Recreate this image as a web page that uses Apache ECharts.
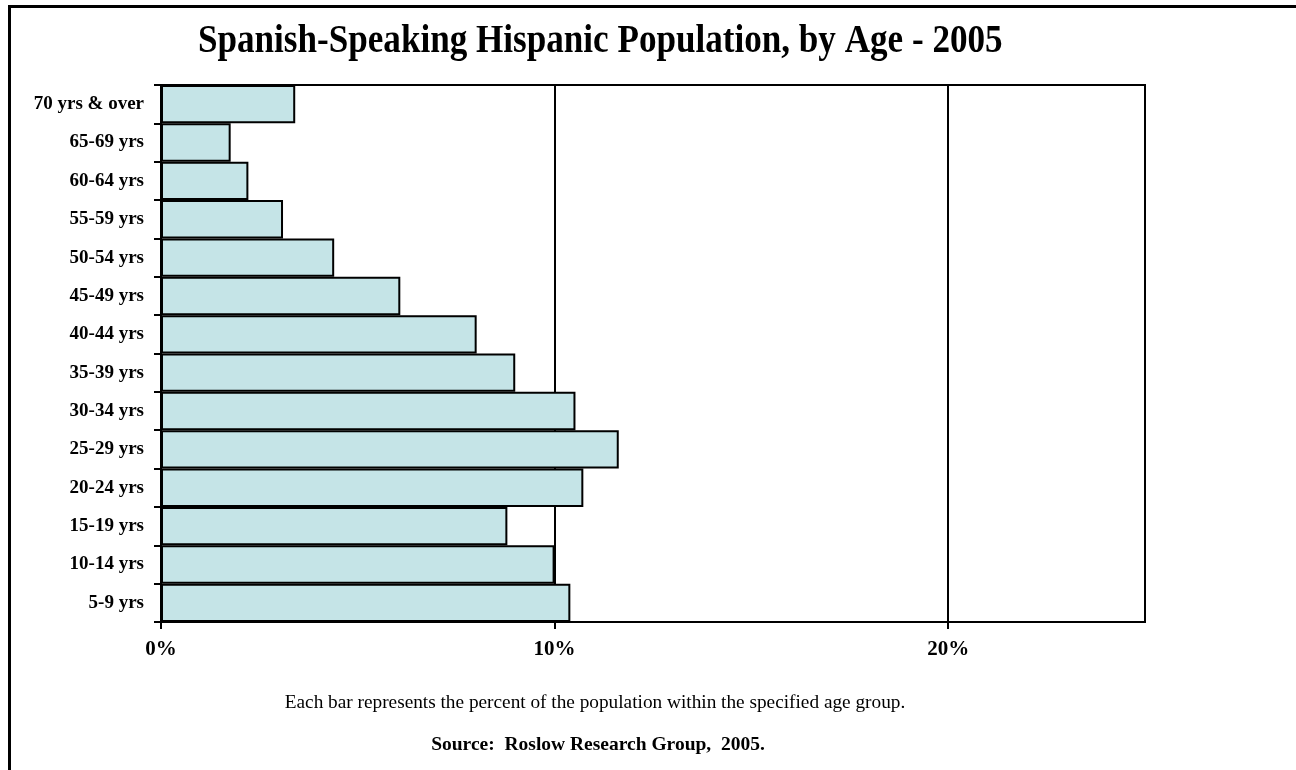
<!DOCTYPE html>
<html>
<head>
<meta charset="utf-8">
<script src="https://cdn.jsdelivr.net/npm/echarts@6/dist/echarts.min.js"></script>
<style>
  html, body { margin: 0; padding: 0; background: #fff; }
  #chart { width: 1296px; height: 770px; }
</style>
</head>
<body>
<div id="chart"></div>
<script>
// Age groups, listed from the bottom bar to the top bar
const ageGroups = ['5-9 yrs', '10-14 yrs', '15-19 yrs', '20-24 yrs', '25-29 yrs', '30-34 yrs',
  '35-39 yrs', '40-44 yrs', '45-49 yrs', '50-54 yrs', '55-59 yrs', '60-64 yrs', '65-69 yrs', '70 yrs & over'];
// Percent of the population in each age group
const sharePct = [10.4, 10.0, 8.8, 10.73, 11.63, 10.53, 9.0, 8.02, 6.08, 4.4, 3.1, 2.22, 1.77, 3.41];
// Labelled ticks on the percent axis
const pctTicks = [0, 10, 20];

const serif = '"Liberation Serif", "Times New Roman", serif';
const chart = echarts.init(document.getElementById('chart'), null, { renderer: 'canvas' });

chart.setOption({
  animation: false,
  backgroundColor: '#ffffff',
  grid: {
    left: 161, right: 151, top: 85, bottom: 148,
    show: true, borderColor: '#000', borderWidth: 2, backgroundColor: 'transparent'
  },
  xAxis: {
    type: 'value',
    min: 0, max: 25, interval: 10,
    axisLine: { show: true, lineStyle: { color: '#000', width: 2 } },
    axisTick: { show: true, length: 7, customValues: pctTicks, lineStyle: { color: '#000', width: 2 } },
    axisLabel: {
      customValues: pctTicks,
      formatter: v => v + '%',
      margin: 17,
      fontFamily: serif, fontWeight: 'bold', fontSize: 21, color: '#000'
    },
    splitLine: { show: true, lineStyle: { color: '#000', width: 2 } }
  },
  yAxis: {
    type: 'category',
    data: ageGroups,
    axisLine: { show: true, lineStyle: { color: '#000', width: 2 } },
    axisTick: { show: true, length: 7, lineStyle: { color: '#000', width: 2 } },
    axisLabel: { margin: 17, fontFamily: serif, fontWeight: 'bold', fontSize: 19, color: '#000' }
  },
  series: [{
    type: 'bar',
    data: sharePct,
    barCategoryGap: 0,
    itemStyle: { color: '#c5e4e7', borderColor: '#000', borderWidth: 2 }
  }],
  graphic: [
    {
      type: 'polyline',
      shape: { points: [[9.5, 770], [9.5, 6.5], [1296, 6.5]] },
      style: { stroke: '#000', lineWidth: 3, fill: null }
    },
    {
      // Chart title, set in a narrowed bold serif
      type: 'text', x: 198, y: 42, scaleX: 0.9,
      style: {
        text: 'Spanish-Speaking Hispanic Population, by Age - 2005',
        font: 'bold 39px ' + serif, fill: '#000',
        textAlign: 'left', textVerticalAlign: 'middle'
      }
    },
    {
      type: 'text', x: 595, y: 703,
      style: {
        text: 'Each bar represents the percent of the population within the specified age group.',
        font: '19.3px ' + serif, fill: '#000',
        textAlign: 'center', textVerticalAlign: 'middle'
      }
    },
    {
      type: 'text', x: 598, y: 745,
      style: {
        text: 'Source:  Roslow Research Group,  2005.',
        font: 'bold 19.5px ' + serif, fill: '#000',
        textAlign: 'center', textVerticalAlign: 'middle'
      }
    }
  ]
});
</script>
</body>
</html>
